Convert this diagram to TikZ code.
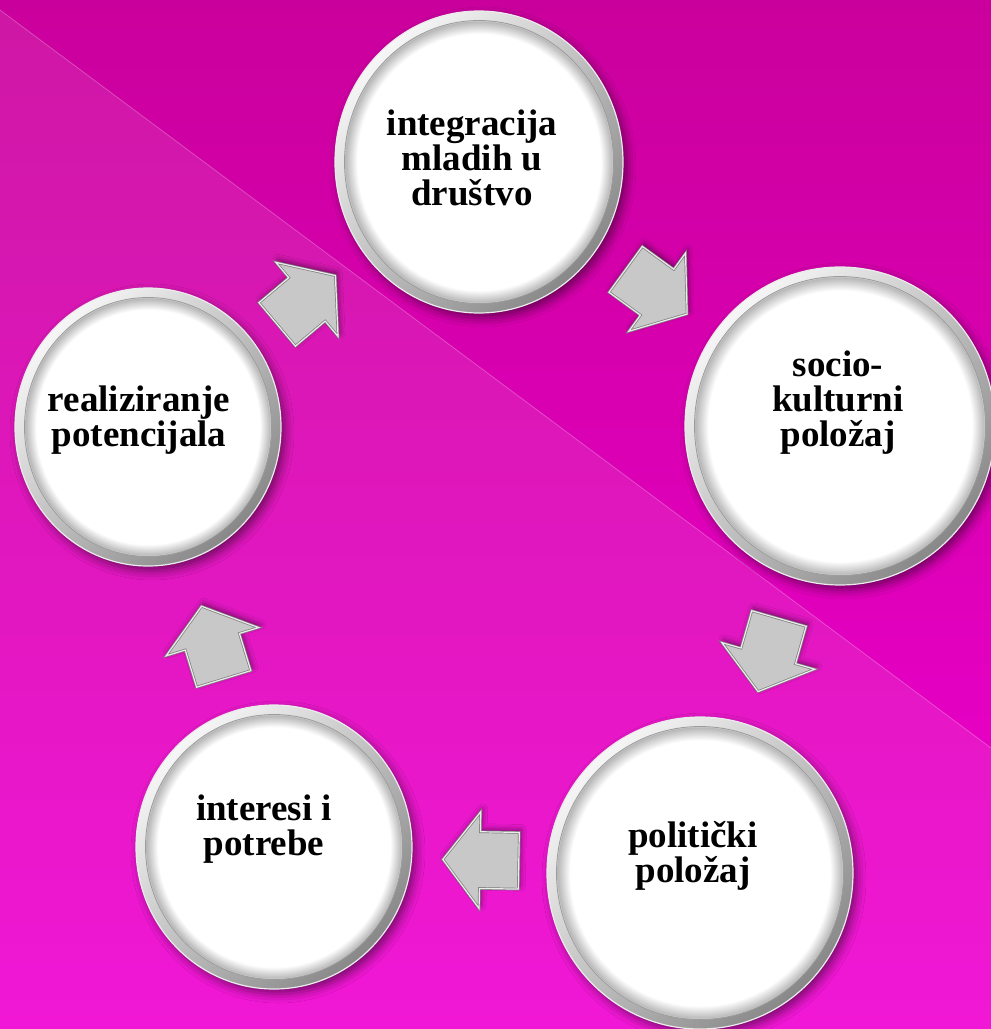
\documentclass[tikz,border=0pt]{standalone}
\usepackage{fontspec}
\setmainfont{Liberation Serif}
\usetikzlibrary{shapes.geometric,shapes.arrows,shadows.blur,calc}

\definecolor{bgtop}{HTML}{CA009C}
\definecolor{bgbot}{HTML}{F000D2}
\definecolor{rimlight}{HTML}{F6F6F6}
\definecolor{rimdark}{HTML}{888888}
\definecolor{rimedgecol}{HTML}{9C9C9C}
\definecolor{arrowfill}{HTML}{C8C8C8}
\definecolor{arrowedge}{HTML}{7C7C7C}
\definecolor{arrowhi}{HTML}{ECECEC}

\pgfdeclareradialshading{innerglow}{\pgfpoint{0bp}{0bp}}{color(0bp)=(white); color(22.8bp)=(white); color(25bp)=(white!72!black); color(50bp)=(white!72!black)}

\tikzset{
  bubble/.style={ellipse, inner sep=0pt, top color=rimlight, bottom color=rimdark,
    shading angle=45, draw=white!92!black, line width=1.2pt,
    blur shadow={shadow xshift=4pt, shadow yshift=-5pt, shadow blur radius=9pt, shadow opacity=50}},
  rimedge/.style={fill=white!80!black, draw=rimedgecol, line width=0.8pt},
  bubbletext/.style={font=\fontsize{37}{35}\selectfont\bfseries, align=center, text=black, inner sep=0pt},
  blockarrow/.style={single arrow, minimum height=76pt, minimum width=96pt,
    text height=28pt, text depth=28pt, text width=0pt,
    single arrow head extend=20pt, single arrow tip angle=105, inner sep=0pt,
    fill=arrowfill, draw=arrowedge, line width=0.7pt, line join=miter,
    double=arrowhi, double distance=1.2pt,
    blur shadow={shadow xshift=2pt, shadow yshift=3pt, shadow blur radius=5pt, shadow opacity=45}}
}

\newcommand\bubble[5]{%
  \node[bubble, minimum width=2*#4, minimum height=2*#5] (#1) at (#2,#3) {};
  \filldraw[rimedge] (#1.center) ellipse [x radius=#4-9.5, y radius=#5-9.5];
  \shade[shading=innerglow] (#1.center) ellipse [x radius=#4-10.5, y radius=#5-10.5];
}

\begin{document}
\begin{tikzpicture}[x=1pt,y=-1pt]
\useasboundingbox (0,0) rectangle (991,1029);
% background
\shade[top color=bgtop, bottom color=bgbot] (0,0) rectangle (991,1029);
\fill[white, opacity=0.09] (0,10) -- (991,748) -- (991,1029) -- (0,1029) -- cycle;
\draw[white, opacity=0.25, line width=0.8pt] (0,10) -- (991,748);

% circles
\bubble{c1}{479}{162}{144}{151}
\bubble{c2}{840}{426}{155}{159}
\bubble{c3}{700}{873}{153}{156}
\bubble{c4}{274}{847}{138}{142}
\bubble{c5}{148}{427}{133}{139}

% texts
\node[bubbletext] (t1) at (472,158) {integracija\\mladih u\\društvo};
\node[bubbletext] (t2) at (838,403) {socio-\\kulturni\\položaj};
\node[bubbletext] (t3) at (693,856) {politički\\položaj};
\node[bubbletext] (t4) at (264,829) {interesi i\\potrebe};
\node[bubbletext] (t5) at (139,420) {realiziranje\\potencijala};

% arrows
\node[blockarrow, rotate=-36] (a1) at ($(c1)!0.467!(c2)$) {};
\node[blockarrow, rotate=-106] (a2) at ($(c2)!0.489!(c3)$) {};
\node[blockarrow, rotate=179] (a3) at ($(c3)!0.489!(c4)$) {};
\node[blockarrow, rotate=107] (a4) at ($(c4)!0.462!(c5)$) {};
\node[blockarrow, rotate=40] (a5) at ($(c5)!0.453!(c1)$) {};
\end{tikzpicture}
\end{document}
